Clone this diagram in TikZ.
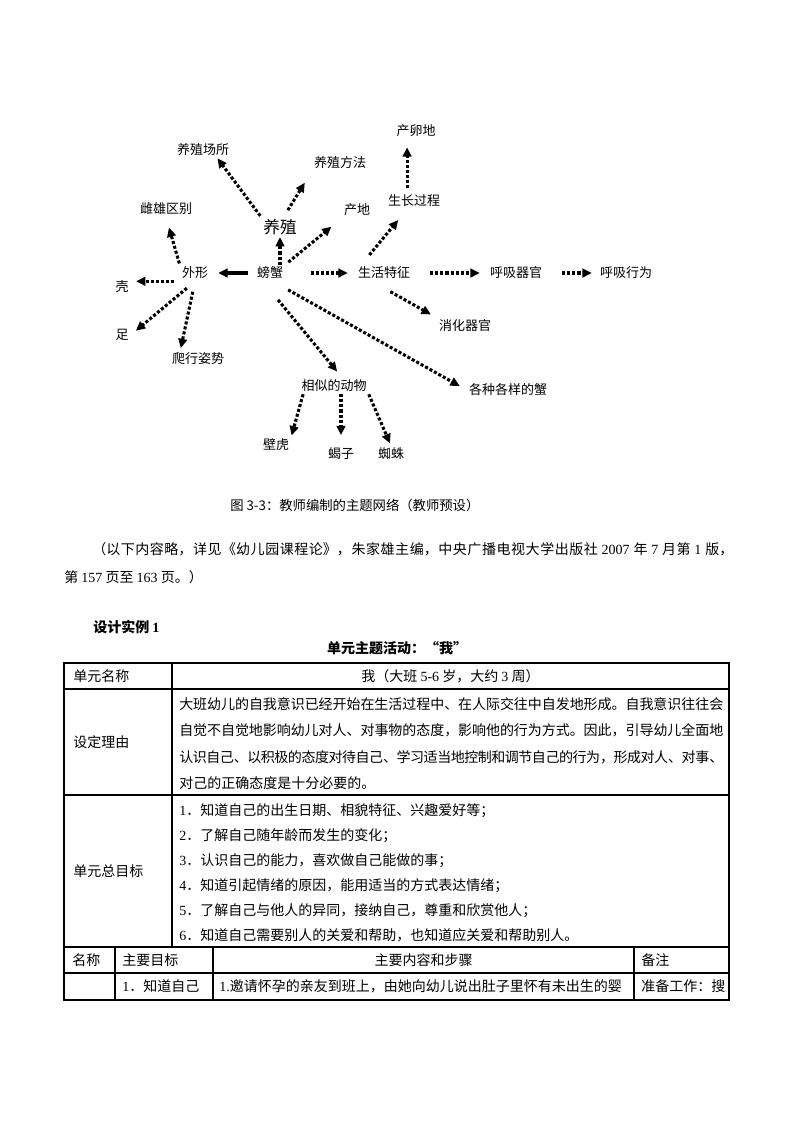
\documentclass[tikz,border=0pt]{standalone}
\usepackage{fontspec}
\setmainfont{Noto Sans CJK SC}
\newfontfamily\latinserif{Liberation Serif}
\usepackage{tikz}
\usetikzlibrary{arrows.meta}
\XeTeXlinebreaklocale "zh"
\XeTeXlinebreakskip=0pt plus 1pt minus 0.6pt
\newcommand{\latn}[1]{{\latinserif #1}}

\begin{document}
\begin{tikzpicture}[x=0.75pt, y=-0.75pt, font=\fontsize{10.5}{12}\selectfont,
    lbl/.style={inner sep=1.5pt, font=\fontsize{9.75}{12}\selectfont},
    dotarrow/.style={line width=2.3pt, dash pattern=on 2.3pt off 1.5pt,
      -{Triangle[length=7pt,width=6.5pt]}},
    solidarrow/.style={line width=2.4pt, -{Triangle[length=7pt,width=6.5pt]}},
    cell/.style={inner sep=0pt, anchor=west},
    rule/.style={line width=0.8pt}]
    \fill[white] (0,0) rectangle (793,1122);
    \useasboundingbox (0,0) rectangle (793,1122);

    \foreach \name/\x/\y/\txt in {cld/416/131/产卵地, yzcs/203/150/养殖场所,
      yzff/340/163/养殖方法, szgc/414/201/生长过程, cxqb/166/209/雌雄区别,
      cd/357/210/产地, wx/195/273/外形, px/270/273/螃蟹, shtz/384/273/生活特征,
      hxqg/516/273/呼吸器官, hxxw/626/273/呼吸行为, ke/122/287/壳, zu/122/335/足,
      xhqg/465/326/消化器官, pxzs/198/359/爬行姿势, xsdw/334/386/相似的动物,
      gzgy/508/390/各种各样的蟹, bh/276/445/壁虎, xz/341/454/蝎子, zz/391/454/蜘蛛} {
      \node[lbl] (\name) at (\x,\y) {\txt};
    }
    \node[lbl, font=\fontsize{12.5}{15}\selectfont] (yz) at (280,227) {养殖};

    \draw[solidarrow, shorten <=5pt, shorten >=6pt] (px.west) -- (wx.east);
    \draw[dotarrow, shorten <=4pt, shorten >=4pt] (wx.south west) -- (ke.east |- wx.south west);
    \draw[dotarrow, shorten <=1pt, shorten >=8pt] (wx.north west) -- (cxqb.south);
    \draw[dotarrow, shorten <=8pt, shorten >=5pt] (wx.south) -- (zu.east);
    \draw[dotarrow, shorten <=8pt, shorten >=2pt] (wx.south) -- (pxzs.155);
    \draw[dotarrow] (yz.south |- px.north) -- (yz.south);
    \draw[dotarrow, shorten <=1pt] (yz.north west) -- (yzcs.-30);
    \draw[dotarrow, shorten <=6pt, shorten >=10pt] (yz.70) -- (yzff.south west);
    \draw[dotarrow, shorten <=3pt, shorten >=10pt] (px.north east) -- (cd.south west);
    \draw[dotarrow, shorten <=19pt, shorten >=6pt] (px.east) -- (shtz.west);
    \draw[dotarrow, shorten <=13.5pt, shorten >=6pt] (shtz.east) -- (hxqg.west);
    \draw[dotarrow, shorten <=13.5pt, shorten >=4.5pt] (hxqg.east) -- (hxxw.west);
    \draw[dotarrow, shorten <=9.5pt, shorten >=10.5pt] (shtz.160) -- (szgc.-130);
    \draw[dotarrow, shorten <=3.5pt, shorten >=6pt] (szgc.130) -- (szgc.130 |- cld.south);
    \draw[dotarrow, shorten <=16pt, shorten >=5pt] (shtz.-146) -- (xhqg.north west);
    \draw[dotarrow, shorten <=18pt, shorten >=6pt] (px.-131) -- (xsdw.45);
    \draw[dotarrow, shorten <=13pt, shorten >=6pt] (px.-70) -- (gzgy.west);
    \draw[dotarrow, shorten >=1pt] (xsdw.-165) -- (bh.north east);
    \draw[dotarrow, shorten >=8pt] (xsdw.south -| xz.north) -- (xz.north);
    \draw[dotarrow, shorten >=2pt] (xsdw.south east) -- (zz.north);

    \node[anchor=west, inner sep=0pt, font=\fontsize{10}{12}\selectfont] (cap) at (230,505)
      {图 3-3：教师编制的主题网络（教师预设）};
    \node[anchor=base west, inner sep=0pt, text width=501.75pt, align=justify,
      font=\fontsize{10.5}{21}\selectfont] (para) at (64,554)
      {\hspace*{2em}（以下内容略，详见《幼儿园课程论》，朱家雄主编，中央广播电视大学出版社 \latn{2007} 年 \latn{7} 月第 \latn{1} 版，\linebreak 第 \latn{157} 页至 \latn{163} 页。）};
    \node[cell, font=\bfseries\fontsize{10.5}{12}\selectfont] (case) at (93,627) {设计实例 \latn{1}};
    \node[inner sep=0pt, font=\bfseries\fontsize{10.5}{12}\selectfont] (title) at (397,648)
      {单元主题活动：“我”};

    \draw[rule] (64,663) rectangle (729,1000);
    \foreach \y in {689,795,947,973} {
      \draw[rule] (64,\y) -- (729,\y);
    }
    \draw[rule] (172,663) -- (172,947);
    \foreach \x in {115,213,634} {
      \draw[rule] (\x,947) -- (\x,1000);
    }

    \node[cell] (unit) at (73,676) {单元名称};
    \node[inner sep=0pt] (unitval) at (450.5,676) {我（大班 \latn{5-6} 岁，大约 \latn{3} 周）};
    \node[cell] (reason) at (73,742) {设定理由};
    \node[anchor=base west, inner sep=0pt, text width=408pt, align=justify,
      font=\fontsize{10.5}{19.9}\selectfont] (reasonval) at (179,709)
      {大班幼儿的自我意识已经开始在生活过程中、在人际交往中自发地形成。自我意识往往会\linebreak 自觉不自觉地影响幼儿对人、对事物的态度，影响他的行为方式。因此，引导幼儿全面地\linebreak 认识自己、以积极的态度对待自己、学习适当地控制和调节自己的行为，形成对人、对事、\linebreak 对己的正确态度是十分必要的。};
    \node[cell] (goal) at (73,871) {单元总目标};
    \foreach \i/\txt in {1/知道自己的出生日期、相貌特征、兴趣爱好等；,
      2/了解自己随年龄而发生的变化；, 3/认识自己的能力，喜欢做自己能做的事；,
      4/知道引起情绪的原因，能用适当的方式表达情绪；,
      5/了解自己与他人的异同，接纳自己，尊重和欣赏他人；,
      6/知道自己需要别人的关爱和帮助，也知道应关爱和帮助别人。} {
      \node[cell] (goal\i) at (179,{811+24.8*(\i-1)}) {\latn{\i}．\txt};
    }

    \node[cell] (hname) at (72,960) {名称};
    \node[cell] (haim) at (122,960) {主要目标};
    \node[inner sep=0pt] (hstep) at (423.5,960) {主要内容和步骤};
    \node[cell] (hnote) at (641,960) {备注};
    \node[cell] (aim1) at (122,986.5) {\latn{1}．知道自己};
    \node[cell] (step1) at (219,986.5) {\latn{1.}邀请怀孕的亲友到班上，由她向幼儿说出肚子里怀有未出生的婴};
    \node[cell] (note1) at (641,986.5) {准备工作：搜};
\end{tikzpicture}
\end{document}
